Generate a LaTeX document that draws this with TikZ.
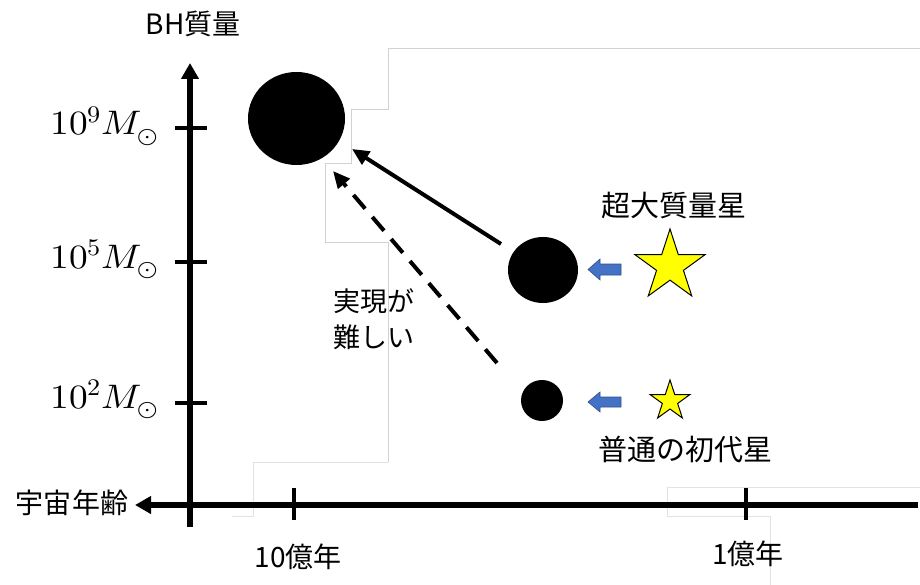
\documentclass[tikz,border=0pt]{standalone}
\usepackage{fontspec}
\usepackage{unicode-math}
\usepackage{graphicx}
\setmainfont{Noto Sans CJK JP}
\setmathfont{Latin Modern Math}
\usetikzlibrary{arrows.meta,shapes.geometric}
\definecolor{officeblue}{HTML}{4472C4}
\definecolor{blueedge}{HTML}{2F528F}
\definecolor{staryellow}{HTML}{FFFF00}
\definecolor{faint}{HTML}{D2D2D2}
\definecolor{fainter}{HTML}{E2E2E2}
\newcommand{\msun}[1]{\scalebox{1.1}[1]{$10^{#1}M_{\odot}$}}
\begin{document}
\begin{tikzpicture}[x=1pt,y=-1pt,
  faintline/.style={draw=faint,line width=0.9pt},
  fainterline/.style={draw=fainter,line width=0.9pt},
  axis/.style={line width=6pt,-{Triangle[length=16pt,width=17pt]}},
  tickline/.style={line width=4pt},
  lbl/.style={font=\fontsize{28}{34}\selectfont,inner sep=0pt},
  biglbl/.style={font=\fontsize{29}{34}\selectfont,inner sep=0pt},
  mlbl/.style={font=\fontsize{34}{40}\selectfont,inner sep=0pt,anchor=base east},
  bh/.style={ellipse,fill=black,inner sep=0pt},
  bstar/.style={star,star points=5,star point ratio=2.618,fill=staryellow,draw=black,line width=1pt,inner sep=0pt},
  barrow/.style={fill=officeblue,draw=blueedge,line width=0.6pt},
  evo/.style={line width=4pt,-{Triangle[length=17pt,width=15pt]}},
  evodash/.style={evo,dash pattern=on 18pt off 11pt},
]
\useasboundingbox (0,0) rectangle (920,585);
\fill[white] (0,0) rectangle (920,585);

% faint placeholder outlines
\draw[faintline] (920,48) -- (388,48) -- (388,109) -- (351,109) -- (351,163) -- (325,163) -- (325,242) -- (388,242) -- (388,462);
\draw[fainterline] (388,462) -- (253,462) -- (253,516) -- (232,516);
\draw[fainterline] (920,487) -- (667,487) -- (667,516) -- (770,516) -- (770,585);

% axes
\coordinate (ybot) at (190,527);
\coordinate (ytop) at (190,63);
\coordinate (xright) at (918,505);
\coordinate (xleft) at (135,505);
\draw[axis] (ybot) -- (ytop);
\draw[axis] (xright) -- (xleft);

% y ticks
\foreach \n/\yy in {t9/128,t5/262,t2/403}{
  \coordinate (\n a) at (175,\yy);
  \coordinate (\n b) at (207,\yy);
  \draw[tickline] (\n a) -- (\n b);
}
% x ticks
\foreach \n/\xx in {ta/294,tb/746}{
  \coordinate (\n a) at (\xx,488);
  \coordinate (\n b) at (\xx,520);
  \draw[tickline] (\n a) -- (\n b);
}

% axis labels
\node[lbl] (ylab) at (193,24) {BH質量};
\node[lbl] (xlab) at (72,503) {宇宙年齢};
\node[lbl] (x10) at (298,557) {10億年};
\node[lbl] (x1) at (748,554) {1億年};
\node[mlbl] (m9) at (159,135) {\msun{9}};
\node[mlbl] (m5) at (159,268) {\msun{5}};
\node[mlbl] (m2) at (159,408) {\msun{2}};

% black holes
\node[bh,minimum width=97pt,minimum height=93pt] (bhbig) at (296.5,118.5) {};
\node[bh,minimum width=70pt,minimum height=66pt] (bhmid) at (543,270) {};
\node[bh,minimum width=42pt,minimum height=41pt] (bhsmall) at (542,400.5) {};

% stars
\node[bstar,minimum size=74pt] (smstar) at (670,266) {};
\node[bstar,minimum size=42pt] (popstar) at (670,401) {};

% blue arrows (star -> black hole)
\draw[barrow,shift={(588,269.5)}] (0,0) -- (12,-10.5) -- (12,-5.5) -- (33,-5.5) -- (33,5.5) -- (12,5.5) -- (12,10.5) -- cycle;
\draw[barrow,shift={(588,402)}] (0,0) -- (12,-10) -- (12,-5) -- (33,-5) -- (33,5) -- (12,5) -- (12,10) -- cycle;

% growth arrows
\coordinate (g1s) at (501,244);
\coordinate (g1e) at (352,149);
\draw[evo] (g1s) -- (g1e);
\coordinate (g2s) at (497,363);
\coordinate (g2e) at (333,171);
\draw[evodash] (g2s) -- (g2e);

% labels
\node[biglbl] (smlab) at (674,206) {超大質量星};
\node[biglbl] (poplab) at (685.5,449) {普通の初代星};
\node[lbl,font=\fontsize{27}{36}\selectfont,align=left,anchor=west] (hard) at (333,319) {実現が\\難しい};
\end{tikzpicture}
\end{document}
